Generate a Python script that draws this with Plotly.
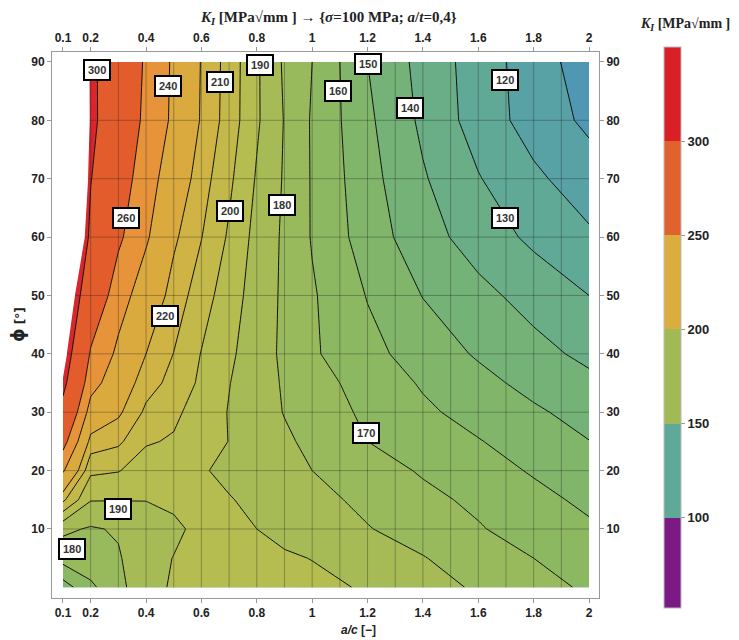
import plotly.graph_objects as go

# ---------------- data ----------------
a_c = [0.1, 0.2, 0.3, 0.4, 0.5, 0.6, 0.7, 0.8, 0.9, 1.0, 1.2, 1.4, 1.6, 1.8, 2.0]
phi = [0, 5, 10, 15, 20, 25, 30, 35, 40, 50, 60, 70, 80, 90]

K_phi00 = [155, 168, 177, 187, 191, 195, 194, 193, 191, 192, 189.2, 184, 178.7, 173.6, 168.5]
K_phi05 = [174, 176, 179, 187, 190.2, 194, 193.5, 192, 191, 189.8, 184.4, 180.5, 174.8, 170, 165.5]
K_phi10 = [182, 179, 181, 186, 188.5, 192, 192, 190, 187.7, 185.3, 180.5, 175.7, 170.8, 165.5, 161.6]
K_phi15 = [212, 190.5, 190.3, 190.2, 191.5, 192, 190.5, 188, 184.9, 183, 177.7, 172.5, 168, 163, 157.8]
K_phi20 = [242, 202, 200.5, 195, 194, 190.8, 188, 185.3, 182.7, 180, 174.4, 169, 164.4, 159, 154]
K_phi25 = [268, 216, 212, 201, 199, 194.4, 189.8, 185.8, 181.6, 177.7, 170, 166, 160.5, 155.5, 150.2]
K_phi30 = [290, 232, 222, 208, 202, 195.6, 189.5, 184.5, 179.6, 175.5, 168.1, 161.7, 156.6, 151.5, 146.3]
K_phi35 = [308, 247, 229, 214, 207, 198, 190.3, 184.4, 179, 174, 166, 159, 153, 147, 142.4]
K_phi40 = [319, 257.6, 236, 220, 209.8, 199.6, 191.8, 184.7, 178.1, 171.3, 163, 155.5, 148.9, 143.2, 137.6]
K_phi50 = [333, 280, 248.4, 230, 215.6, 204.7, 194.5, 185.8, 178.2, 171.1, 159.5, 149.7, 142.8, 136.3, 130]
K_phi60 = [370, 294, 263.9, 242.4, 222, 210.3, 198.6, 186.7, 178.4, 169.3, 155.2, 144.1, 135.5, 127.9, 121.5]
K_phi70 = [400, 301, 271.8, 248.7, 229.3, 214.4, 202, 189, 179, 169.2, 153.5, 141, 130.6, 121.9, 114.8]
K_phi80 = [400, 306.8, 279.6, 254.9, 236.5, 218.8, 205.4, 191.4, 179.5, 169, 151.9, 138, 125.6, 115.8, 107.9]
K_phi90 = [400, 306, 281.1, 257, 237.1, 219.3, 205.8, 191.4, 178.5, 170, 150, 136.7, 125.3, 114.9, 104.8]

K_rows = [K_phi00, K_phi05, K_phi10, K_phi15, K_phi20, K_phi25, K_phi30,
          K_phi35, K_phi40, K_phi50, K_phi60, K_phi70, K_phi80, K_phi90]

# contour levels drawn as lines
levels_fine = [110, 220, 10]     # start, end, step
levels_coarse = [240, 260, 20]
levels_top = [300, 300, 10]

# contour labels
label_values = [300, 240, 210, 190, 160, 150, 120, 140, 260, 200, 180, 130, 220, 170, 190, 180]
label_x = [0.224, 0.48, 0.667, 0.812, 1.095, 1.202, 1.697, 1.354, 0.328, 0.703, 0.89, 1.697, 0.468, 1.195, 0.3, 0.134]
label_y = [88.6, 85.8, 86.6, 89.5, 85.1, 89.7, 86.9, 82.1, 63.3, 64.5, 65.5, 63.2, 46.5, 26.4, 13.4, 6.6]

x_tick_vals = [0.1, 0.2, 0.4, 0.6, 0.8, 1.0, 1.2, 1.4, 1.6, 1.8, 2.0]
x_tick_text = ["0.1", "0.2", "0.4", "0.6", "0.8", "1", "1.2", "1.4", "1.6", "1.8", "2"]
y_tick_vals = [10, 20, 30, 40, 50, 60, 70, 80, 90]

cb_min, cb_max = 52, 350
cb_ticks = [100, 150, 200, 250, 300]
cb_colors = ["#7b1a84", "#5fa999", "#a2ba55", "#d9ae3e", "#e2622e", "#d92027"]

# ---------------- styling ----------------
FILL_START, FILL_END, FILL_STEP = 100, 310, 10
band_colors = {  # band lower bound -> colour
    90: "#4d94b8", 100: "#5097b3", 110: "#58a2a6", 120: "#5fa996", 130: "#69ae86",
    140: "#74b277", 150: "#80b56a", 160: "#8db862", 170: "#99ba5c", 180: "#a6bb56",
    190: "#b5bc50", 200: "#c3b94a", 210: "#cfb445", 220: "#dbaa3f", 230: "#dbaa3f",
    240: "#e7933a", 250: "#e7933a", 260: "#e35d2c", 270: "#e35d2c", 280: "#e35d2c",
    290: "#e35d2c", 300: "#d8262a", 310: "#ffffff",
}
lo_dom = FILL_START - FILL_STEP / 2
hi_dom = FILL_END + FILL_STEP / 2
fill_scale = []
for lb in sorted(band_colors):
    mid = lb + FILL_STEP / 2
    fill_scale.append([(mid - lo_dom) / (hi_dom - lo_dom), band_colors[lb]])

cb_scale = []
edges = [cb_min] + cb_ticks + [cb_max]
for i, c in enumerate(cb_colors):
    p0 = (edges[i] - cb_min) / (cb_max - cb_min)
    p1 = (edges[i + 1] - cb_min) / (cb_max - cb_min)
    cb_scale.append([p0, c])
    cb_scale.append([p1, c])

# page is offset by the 8px body margin; plot area in page px: x 52..599, y 52..598
def px_x(p):
    return (p - 52) / 547.0

def px_y(p):
    return (598 - p) / 546.0

fig = go.Figure()

# filled bands
fig.add_trace(go.Contour(
    x=a_c, y=phi, z=K_rows,
    autocontour=False,
    contours=dict(start=FILL_START, end=FILL_END, size=FILL_STEP,
                  coloring="fill", showlines=False),
    colorscale=fill_scale, showscale=False, line=dict(width=0, smoothing=0),
    hoverinfo="skip",
))

# mesh lines (data grid style)
WHITE_LIMIT = FILL_END
mesh_x = [round(0.1 * k, 1) for k in range(2, 20)]
mesh_y = [10, 20, 30, 40, 50, 60, 70, 80]
mx, my = [], []
for xm in mesh_x:
    mx += [xm, xm, None]
    my += [phi[0], phi[-1], None]
for ym in mesh_y:
    row = K_rows[phi.index(ym)]
    xs = a_c[0]
    if row[0] > WHITE_LIMIT:
        xs = a_c[0] + (a_c[1] - a_c[0]) * (row[0] - WHITE_LIMIT) / (row[0] - row[1])
    mx += [xs, a_c[-1], None]
    my += [ym, ym, None]
fig.add_trace(go.Scatter(x=mx, y=my, mode="lines",
                         line=dict(color="rgba(30,30,30,0.33)", width=1),
                         hoverinfo="skip", showlegend=False))

# contour lines
for st, en, sz in (levels_fine, levels_coarse, levels_top):
    fig.add_trace(go.Contour(
        x=a_c, y=phi, z=K_rows,
        autocontour=False,
        contours=dict(start=st, end=en, size=sz, coloring="none"),
        line=dict(color="#111111", width=1.0, smoothing=0),
        showscale=False, hoverinfo="skip",
    ))

# colour legend (drawn via an empty trace on the secondary axes)
fig.add_trace(go.Scatter(
    x=[None], y=[None], xaxis="x2", yaxis="y2", mode="markers",
    marker=dict(color=[cb_min], cmin=cb_min, cmax=cb_max, colorscale=cb_scale,
                showscale=True,
                colorbar=dict(x=px_x(664), xanchor="left", xpad=0,
                              y=px_y(47), yanchor="top", ypad=0,
                              len=(608 - 47) / 546.0, lenmode="fraction", thickness=17,
                              outlinewidth=1, outlinecolor="#bbbbbb",
                              tickvals=cb_ticks, ticktext=["<b>%d</b>" % v for v in cb_ticks],
                              ticks="outside", ticklen=4, tickcolor="#999999",
                              tickfont=dict(family="Liberation Sans", size=13, color="#222"))),
    hoverinfo="skip", showlegend=False))

x_range = [0.0603, 2.036]
y_range = [-1.82, 91.7]
tickfont = dict(family="Liberation Sans", size=12, color="#222")
common_x = dict(range=x_range, tickvals=x_tick_vals, ticktext=["<b>%s</b>" % t for t in x_tick_text],
                ticks="outside", ticklen=4, tickcolor="#999", showline=True, linecolor="#999",
                linewidth=1, showgrid=False, zeroline=False, tickfont=tickfont, automargin=False)
common_y = dict(range=y_range, tickvals=y_tick_vals, ticktext=["<b>%d</b>" % v for v in y_tick_vals],
                ticks="outside", ticklen=4, tickcolor="#999", showline=True, linecolor="#999",
                linewidth=1, showgrid=False, zeroline=False, tickfont=tickfont, automargin=False)

annotations = []
for v, lx, ly in zip(label_values, label_x, label_y):
    annotations.append(dict(x=lx, y=ly, xref="x", yref="y", text="<b>%d</b>" % v,
                            showarrow=False, bgcolor="white", bordercolor="black",
                            borderwidth=2, borderpad=3,
                            font=dict(family="Liberation Sans", size=11, color="#333")))

annotations += [
    dict(xref="paper", yref="paper", x=px_x(329), y=px_y(18), xanchor="center", yanchor="middle",
         showarrow=False,
         text="<b><i>K<sub>I</sub></i> [MPa√mm ] → {<i>σ</i>=100 MPa; <i>a</i>/<i>t</i>=0,4}</b>",
         font=dict(family="Liberation Serif", size=15, color="#222")),
    dict(xref="paper", yref="paper", x=px_x(685), y=px_y(25), xanchor="center", yanchor="middle",
         showarrow=False,
         text="<b><i>K<sub>I</sub></i> [MPa√mm ]</b>",
         font=dict(family="Liberation Serif", size=14, color="#222")),
    dict(xref="paper", yref="paper", x=px_x(358), y=px_y(630), xanchor="center", yanchor="middle",
         showarrow=False,
         text="<b><i>a/c</i> [−]</b>",
         font=dict(family="Liberation Sans", size=12, color="#222")),
    dict(xref="paper", yref="paper", x=px_x(18), y=px_y(325), xanchor="center", yanchor="middle",
         showarrow=False, textangle=-90,
         text="<b><span style='font-size:17px'>ϕ</span> [°]</b>",
         font=dict(family="DejaVu Sans", size=12, color="#222")),
]

fig.update_layout(
    width=739, height=640,
    margin=dict(l=44, r=148, t=44, b=50, autoexpand=False),
    paper_bgcolor="white", plot_bgcolor="white",
    showlegend=False,
    xaxis=dict(**common_x, side="bottom"),
    yaxis=dict(**common_y, side="left"),
    xaxis2=dict(**common_x, side="top", overlaying="x", anchor="y"),
    yaxis2=dict(**common_y, side="right", overlaying="y", anchor="x"),
    annotations=annotations,
)

fig.write_html("out.html")
